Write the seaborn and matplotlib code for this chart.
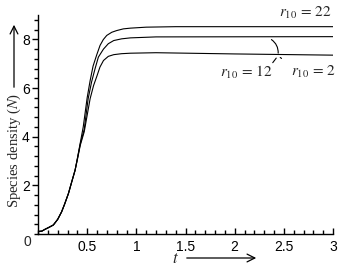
import numpy as np
import pandas as pd
import seaborn as sns
import matplotlib.pyplot as plt
from matplotlib.ticker import MultipleLocator

# values
t_22 = [0, 0.04, 0.07, 0.11, 0.156, 0.2, 0.24, 0.27, 0.31, 0.34, 0.377, 0.4, 0.43, 0.46, 0.5,
        0.53, 0.56, 0.597, 0.631, 0.664, 0.699, 0.75, 0.8, 0.868, 0.94, 1.1, 1.4, 3.0]
n_22 = [0.1, 0.12, 0.19, 0.27, 0.37, 0.6, 0.91, 1.22, 1.67, 2.1, 2.62, 3.1, 3.75, 4.4, 5.6,
        6.3, 6.9, 7.36, 7.75, 7.99, 8.16, 8.29, 8.36, 8.43, 8.46, 8.5, 8.52, 8.52]

t_12 = [0, 0.04, 0.07, 0.11, 0.156, 0.2, 0.24, 0.27, 0.31, 0.34, 0.377, 0.4, 0.43, 0.47, 0.51,
        0.545, 0.58, 0.614, 0.666, 0.715, 0.77, 0.85, 0.94, 1.2, 3.0]
n_12 = [0.1, 0.12, 0.19, 0.27, 0.37, 0.6, 0.91, 1.22, 1.67, 2.1, 2.62, 3.08, 3.7, 4.3, 5.56,
        6.25, 6.79, 7.27, 7.6, 7.82, 7.95, 8.02, 8.06, 8.1, 8.11]

t_2 = [0, 0.04, 0.07, 0.11, 0.156, 0.2, 0.24, 0.27, 0.31, 0.34, 0.377, 0.4, 0.43, 0.47, 0.53,
       0.565, 0.6, 0.63, 0.666, 0.715, 0.77, 0.85, 0.94, 1.2, 2.0, 3.0]
n_2 = [0.1, 0.12, 0.19, 0.27, 0.37, 0.6, 0.91, 1.22, 1.67, 2.1, 2.62, 3.05, 3.65, 4.2, 5.56,
       6.1, 6.5, 6.86, 7.13, 7.3, 7.37, 7.41, 7.43, 7.45, 7.4, 7.35]

labels = ['22', '12', '2']

df = pd.concat([
    pd.DataFrame({'t': t_22, 'N': n_22, 'r10': labels[0]}),
    pd.DataFrame({'t': t_12, 'N': n_12, 'r10': labels[1]}),
    pd.DataFrame({'t': t_2, 'N': n_2, 'r10': labels[2]}),
])

sns.set_style('white')
plt.rcParams['mathtext.fontset'] = 'stix'

W, H = 341, 272
fig = plt.figure(figsize=(W / 100, H / 100), dpi=100)
ax = fig.add_axes([38 / W, (H - 234) / H, (333 - 38) / W, (234 - 15) / H])

sns.lineplot(data=df, x='t', y='N', hue='r10', palette=['black'] * 3,
             linewidth=0.8, legend=False, sort=False, estimator=None, ax=ax)

ax.set_xlim(0, 3)
ax.set_ylim(0, 9)
ax.set_xlabel('')
ax.set_ylabel('')
for s in ['top', 'right']:
    ax.spines[s].set_visible(False)
for s in ['left', 'bottom']:
    ax.spines[s].set_linewidth(1.0)
    ax.spines[s].set_color('black')

ax.xaxis.set_major_locator(MultipleLocator(0.5))
ax.xaxis.set_minor_locator(MultipleLocator(0.1))
ax.yaxis.set_major_locator(MultipleLocator(2))
ax.yaxis.set_minor_locator(MultipleLocator(0.4))
ax.set_xticks([0.5, 1, 1.5, 2, 2.5, 3])
ax.set_xticklabels(['0.5', '1', '1.5', '2', '2.5', '3'])
ax.tick_params(axis='x', which='both', direction='in', bottom=True, pad=4, labelsize=10,
               color='black', labelcolor='black')
ax.tick_params(axis='x', which='major', length=4, width=1)
ax.tick_params(axis='x', which='minor', length=3, width=1)
ax.tick_params(axis='y', which='both', direction='out', left=True, pad=2, labelsize=10,
               color='black', labelcolor='black')
ax.tick_params(axis='y', which='major', length=4, width=1)
ax.tick_params(axis='y', which='minor', length=3, width=1)
ax.set_yticks([2, 4, 6, 8])
ax.set_yticklabels(['2', '4', '6', '8'])
for lab in ax.get_xticklabels() + ax.get_yticklabels():
    lab.set_family('Liberation Sans')
fig.text(27 / W, 1 - 242 / H, '0', ha='center', va='center', family='Liberation Sans',
         fontsize=10)

# axis labels with arrows
fig.text(14 / W, 1 - 150 / H, 'Species density ($N$)', rotation=90,
         ha='center', va='center', family='Liberation Serif', fontsize=10.5)
fig.add_artist(plt.Annotation('', xy=(14 / W, 1 - 22 / H), xytext=(14 / W, 1 - 90 / H),
                              xycoords='figure fraction',
                              arrowprops=dict(arrowstyle='->', lw=0.9, color='black',
                                              mutation_scale=14)))
fig.text(175 / W, 1 - 258 / H, '$t$', ha='center', va='center', fontsize=12)
fig.add_artist(plt.Annotation('', xy=(259 / W, 1 - 258 / H), xytext=(184 / W, 1 - 258 / H),
                              xycoords='figure fraction',
                              arrowprops=dict(arrowstyle='->', lw=0.9, color='black',
                                              mutation_scale=14)))

# curve labels
ax.text(2.72, 9.1, r'$r_{10}\,=\,22$', ha='center', va='center', fontsize=11, clip_on=False)
ax.text(2.12, 6.64, r'$r_{10}\,=\,12$', ha='center', va='center', fontsize=11)
ax.text(2.8, 6.64, r'$r_{10}\,=\,2$', ha='center', va='center', fontsize=11)
ax.annotate('', xy=(2.35, 8.05), xytext=(2.44, 7.32),
            arrowprops=dict(arrowstyle='-', lw=0.8, color='black',
                            connectionstyle='arc3,rad=0.35'))
ax.annotate('', xy=(2.44, 7.32), xytext=(2.37, 6.95),
            arrowprops=dict(arrowstyle='-', lw=0.8, color='black'))
ax.annotate('', xy=(2.44, 7.32), xytext=(2.5, 7.15),
            arrowprops=dict(arrowstyle='-', lw=0.8, color='black'))

fig.savefig('out.png', dpi=100)
